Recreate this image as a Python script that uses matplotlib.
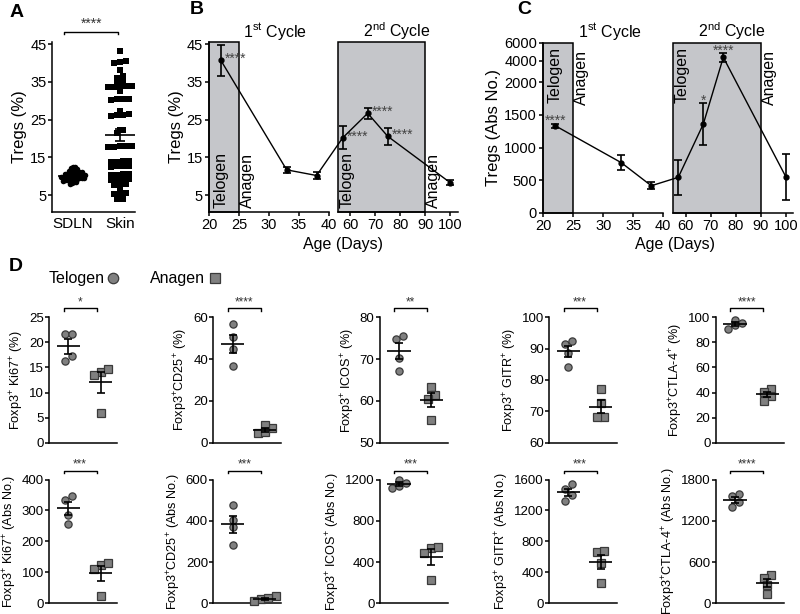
import numpy as np
import matplotlib
matplotlib.use("Agg")
import matplotlib.pyplot as plt
from matplotlib.lines import Line2D
from matplotlib.patches import ConnectionPatch

plt.rcParams['font.family'] = ['Liberation Sans', 'DejaVu Sans']
plt.rcParams['mathtext.default'] = 'regular'
plt.rcParams['axes.linewidth'] = 1.1
plt.rcParams['xtick.major.width'] = 1.1
plt.rcParams['ytick.major.width'] = 1.1
plt.rcParams['xtick.major.size'] = 3
plt.rcParams['ytick.major.size'] = 3

W, H = 800, 614

# ---- panel A: Tregs (%) in SDLN vs skin ----
sdln = [8.0, 8.3, 8.5, 8.6, 8.8, 8.9, 9.0, 9.1, 9.2, 9.3, 9.4, 9.4, 9.5, 9.6,
        9.6, 9.7, 9.8, 9.8, 9.9, 10.0, 10.0, 10.1, 10.1, 10.2, 10.3, 10.3, 10.4,
        10.5, 10.5, 10.6, 10.7, 10.8, 10.9, 11.0, 11.1, 11.2, 11.3, 11.5, 11.6,
        11.8, 12.0, 12.2, 12.4, 12.5]
skin = [43.1, 40.5, 40.2, 40.0, 38.2, 36.6, 36.0, 35.0, 34.9, 33.9, 33.8, 33.6,
        33.7, 34.0, 32.5, 30.5, 30.2, 30.4, 30.6, 27.2, 26.4, 26.2, 26.3, 26.1,
        22.4, 22.2, 21.4, 18.0, 17.8, 17.9, 17.7, 18.1, 14.0, 13.8, 13.9, 14.1,
        12.7, 12.5, 12.6, 12.8, 10.5, 10.3, 10.4, 10.6, 9.2, 9.0, 9.1, 9.3,
        7.9, 7.7, 7.8, 6.6, 5.6, 5.4, 5.5, 4.1, 3.9]

# ---- panels B / C: hair cycle time course ----
days = [22, 33, 38, 57, 67, 75, 100]
pct_mean = [40.7, 11.7, 10.2, 20.2, 26.7, 20.6, 8.3]
pct_err = [4.2, 0.8, 1.0, 3.0, 1.5, 2.2, 0.6]
pct_stars = ['****', '', '', '****', '****', '****', '']
abs_mean = [1335, 770, 417, 546, 1361, 4400, 555]
abs_err = [30, 110, 50, 270, 315, 450, 350]
abs_stars = ['****', '', '', '', '*', '****', '']

# ---- panel D: telogen vs anagen ----
markers = ['Ki67', 'CD25', 'ICOS', 'GITR', 'CTLA-4']
label_gap = [' ', '', ' ', ' ', '']
pct_telogen = [[21.6, 21.7, 17.3, 16.2], [56.8, 50.5, 45.0, 36.7],
               [74.8, 75.6, 70.2, 67.2], [91.5, 92.4, 88.5, 84.2],
               [95.2, 97.8, 93.9, 90.7]]
pct_anagen = [[14.0, 13.4, 14.7, 6.0], [7.0, 8.5, 4.5, 5.0],
              [63.4, 61.4, 60.5, 55.4], [77.0, 72.6, 68.1, 68.1],
              [42.6, 40.7, 37.5, 33.5]]
abs_telogen = [[335, 348, 286, 257], [477, 404, 369, 283],
               [1165, 1198, 1122, 1140], [1536, 1481, 1395, 1318],
               [1590, 1555, 1480, 1400]]
abs_anagen = [[123, 111, 130, 22], [20, 35, 10, 25],
              [537, 547, 489, 225], [669, 678, 519, 268],
              [407, 372, 263, 134]]
pct_ylim = [(0, 25), (0, 60), (50, 80), (60, 100), (0, 100)]
pct_ticks = [[0, 5, 10, 15, 20, 25], [0, 20, 40, 60], [50, 60, 70, 80],
             [60, 70, 80, 90, 100], [0, 20, 40, 60, 80, 100]]
abs_ylim = [(0, 400), (0, 600), (0, 1200), (0, 1600), (0, 1800)]
abs_ticks = [[0, 100, 200, 300, 400], [0, 200, 400, 600], [0, 400, 800, 1200],
             [0, 400, 800, 1200, 1600], [0, 600, 1200, 1800]]
pct_sig = ['*', '****', '**', '***', '****']
abs_sig = ['***', '***', '***', '***', '****']

BOX = '#c5c6ca'
GREY = '#808080'
EDGE = '#3a3a3a'


def px(l, t, r, b):
    return [l / W, 1 - b / H, (r - l) / W, (b - t) / H]


def swarm(vals, binw, dx):
    vals = np.asarray(vals, dtype=float)
    order = np.argsort(vals)
    offs = np.zeros(len(vals))
    groups, cur = [], [order[0]]
    for i in order[1:]:
        if vals[i] - vals[cur[0]] < binw:
            cur.append(i)
        else:
            groups.append(cur)
            cur = [i]
    groups.append(cur)
    for g in groups:
        n = len(g)
        for k, i in enumerate(g):
            offs[i] = (k - (n - 1) / 2) * dx
    return offs


def mean_sem(ax, x, vals, hw, cap):
    v = np.asarray(vals, dtype=float)
    m = v.mean()
    s = v.std(ddof=1) / np.sqrt(len(v))
    ax.hlines(m, x - hw, x + hw, color='k', lw=1.2, zorder=4)
    ax.errorbar(x, m, yerr=s, color='k', capsize=cap, lw=1.2, capthick=1.2, zorder=4)


def bracket(ax, x0, x1, y, tip, text, fs, sy):
    tr = ax.get_xaxis_transform()
    ax.plot([x0, x0, x1, x1], [y - tip, y, y, y - tip], color='k', lw=1,
            transform=tr, clip_on=False)
    ax.text((x0 + x1) / 2, sy, text, transform=tr, ha='center', va='center',
            fontsize=fs, color='#333333')


fig = plt.figure(figsize=(8, 6.14), dpi=100)

# ---------------- A ----------------
axA = fig.add_axes(px(52, 42.4, 135, 211.7))
xs = swarm(sdln, 0.8, 0.045)
axA.plot(0 + xs, sdln, 'o', color='k', ms=4, mew=0)
xs = swarm(skin, 1.0, 0.13)
axA.plot(1 + xs, skin, 's', color='k', ms=4, mew=0)
mean_sem(axA, 1, skin, 0.32, 3.5)
mean_sem(axA, 0, sdln, 0.32, 3.5)
axA.set_xlim(-0.45, 1.32)
axA.set_ylim(0.6, 45.5)
axA.set_yticks([5, 15, 25, 35, 45])
axA.set_xticks([0, 1], ['SDLN', 'Skin'])
axA.tick_params(axis='x', length=0, labelsize=11, pad=4)
axA.tick_params(axis='y', labelsize=10.5, pad=1)
axA.set_ylabel('Tregs (%)', fontsize=12, labelpad=2)
for s in ['top', 'right']:
    axA.spines[s].set_visible(False)
bracket(axA, -0.19, 0.96, 1.063, 0.015, '****', 10, 1.11)


# ---------------- B / C ----------------
def cycle_panel(r1, r2, vals, errs, stars, ylim, yticks, ylabel, labels_top,
                stars_above, scale=None):
    ax1 = fig.add_axes(r1)
    ax2 = fig.add_axes(r2)
    d = np.asarray(days)
    v = np.asarray(vals, dtype=float)
    e = np.asarray(errs, dtype=float)
    first = d <= 40
    second = d >= 55
    for ax, sel, xl, xt in [(ax1, first, (20, 40), [20, 25, 30, 35, 40]),
                            (ax2, second, (55, 103), [60, 70, 80, 90, 100])]:
        if scale is not None:
            ax.set_yscale('function', functions=scale)
        ax.set_xlim(*xl)
        ax.set_ylim(*ylim)
        ax.set_xticks(xt)
        ax.tick_params(labelsize=10.5, pad=1.5)
        ax.errorbar(d[sel], v[sel], yerr=e[sel], fmt='-o', color='k', ms=3.5,
                    lw=1, elinewidth=1.2, capsize=3, capthick=1.2, zorder=3)
        for s in ['top', 'right']:
            ax.spines[s].set_visible(False)
    ax1.axvspan(20, 25, facecolor=BOX, edgecolor='k', lw=1.1, zorder=0, clip_on=False)
    ax2.axvspan(55, 90, facecolor=BOX, edgecolor='k', lw=1.1, zorder=0, clip_on=False)
    ax2.spines['left'].set_visible(False)
    ax2.tick_params(axis='y', left=False, labelleft=False)
    ax1.set_yticks(yticks)
    ax1.set_ylabel(ylabel, fontsize=12, labelpad=2)
    # line bridging the broken axis
    i1 = np.where(first)[0][-1]
    i2 = np.where(second)[0][0]
    fig.add_artist(ConnectionPatch(xyA=(d[i1], v[i1]), coordsA=ax1.transData,
                                   xyB=(d[i2], v[i2]), coordsB=ax2.transData,
                                   color='k', lw=1))
    # significance
    for i, s in enumerate(stars):
        if not s:
            continue
        ax = ax1 if first[i] else ax2
        if stars_above:
            ax.annotate(s, (d[i], v[i] + e[i]), xytext=(0, -1), textcoords='offset points',
                        ha='center', va='baseline', fontsize=10, color='#444444')
        else:
            ax.annotate(s, (d[i], v[i]), xytext=(3, 1), textcoords='offset points',
                        ha='left', va='center', fontsize=10, color='#444444')
    # phase labels
    if labels_top:
        ty, ay, va = 0.976, 0.957, 'top'
    else:
        ty, ay, va = 0.022, 0.022, 'bottom'
    for ax, tx, axx in [(ax1, 22, 26.4), (ax2, 58.7, 93.5)]:
        tr = ax.get_xaxis_transform()
        ax.text(tx, ty, 'Telogen', rotation=90, ha='center', va=va, transform=tr, fontsize=11.5)
        ax.text(axx, ay, 'Anagen', rotation=90, ha='center', va=va, transform=tr, fontsize=11.5,
                clip_on=False)
    ax1.text(31.1, 1.065, '1$^{st}$ Cycle', transform=ax1.get_xaxis_transform(),
             ha='center', va='center', fontsize=11.5)
    ax2.text(78.5, 1.065, '2$^{nd}$ Cycle', transform=ax2.get_xaxis_transform(),
             ha='center', va='center', fontsize=11.5)
    return ax1, ax2


cycle_panel(px(209, 42.4, 328.5, 211.7), px(337.7, 42.4, 457.7, 211.7),
            pct_mean, pct_err, pct_stars, (0.6, 45.5), [5, 15, 25, 35, 45],
            'Tregs (%)', False, False)
fig.text(343 / W, 1 - 245 / H, 'Age (Days)', ha='center', va='center', fontsize=11.5)

c_knots = [0, 2000, 4000, 6000]
c_pos = [0, 2000, 2326, 2606]


def c_fwd(y):
    return np.interp(y, c_knots, c_pos)


def c_inv(y):
    return np.interp(y, c_pos, c_knots)


cycle_panel(px(543.3, 42.7, 663.3, 213), px(673.3, 42.7, 793.3, 213),
            abs_mean, abs_err, abs_stars, (0, 6000),
            [0, 500, 1000, 1500, 2000, 4000, 6000],
            'Tregs (Abs No.)', True, True, scale=(c_fwd, c_inv))
fig.text(675 / W, 1 - 245 / H, 'Age (Days)', ha='center', va='center', fontsize=11.5)

# ---------------- D ----------------
col_left = [49.3, 213.5, 380, 549.3, 716]
rows = [(pct_telogen, pct_anagen, pct_ylim, pct_ticks, pct_sig, '(%)', 317.3, 442.7),
        (abs_telogen, abs_anagen, abs_ylim, abs_ticks, abs_sig, '(Abs No.)', 479.5, 603.3)]
for tel, ana, ylims, ticks, sig, unit, top, bot in rows:
    for j, name in enumerate(markers):
        ax = fig.add_axes(px(col_left[j], top, col_left[j] + 67.5, bot))
        lo, hi = ylims[j]
        binw = (hi - lo) * 7 / (bot - top)
        for x, vals, mk in [(0, tel[j], 'o'), (1, ana[j], 's')]:
            off = swarm(vals, binw, 0.22)
            ax.plot(x + off, vals, mk, ms=5.2, mfc=GREY, mec=EDGE, mew=0.9,
                    zorder=3, clip_on=False)
            mean_sem(ax, x, vals, 0.36, 3)
        ax.set_xlim(-0.59, 1.5)
        ax.set_ylim(lo, hi)
        ax.set_yticks(ticks[j])
        ax.set_xticks([])
        ax.tick_params(axis='y', labelsize=9.5, pad=1)
        for s in ['top', 'right']:
            ax.spines[s].set_visible(False)
        ax.set_ylabel('Foxp3$^{+}$' + label_gap[j] + name + '$^{+}$ ' + unit,
                      fontsize=9.1, labelpad=2)
        bracket(ax, -0.15, 0.88, 1.072, 0.022, sig[j], 8.5, 1.12)

# legend for D
fig.text(49 / W, 1 - 278 / H, 'Telogen', ha='left', va='center', fontsize=11.5)
fig.add_artist(Line2D([113 / W], [1 - 278 / H], transform=fig.transFigure, marker='o',
                      ms=7.5, mfc=GREY, mec=EDGE, mew=0.9, ls='none'))
fig.text(150 / W, 1 - 278 / H, 'Anagen', ha='left', va='center', fontsize=11.5)
fig.add_artist(Line2D([215 / W], [1 - 278 / H], transform=fig.transFigure, marker='s',
                      ms=7, mfc=GREY, mec=EDGE, mew=0.9, ls='none'))

# panel letters
for lab, x, y in [('A', 16.7, 12.5), ('B', 196.7, 9), ('C', 524.7, 10), ('D', 16, 266.7)]:
    fig.text(x / W, 1 - y / H, lab, fontsize=14, fontweight='bold', ha='center', va='center')

fig.savefig('out.png', dpi=100)
